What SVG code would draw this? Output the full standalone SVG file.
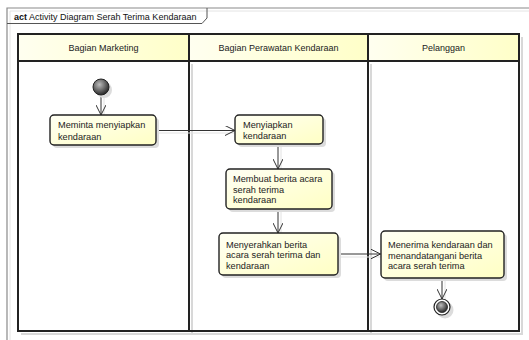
<svg xmlns="http://www.w3.org/2000/svg" width="529" height="340" viewBox="0 0 529 340">
  <style>
    .txt { font-family: "Liberation Sans", Arial, sans-serif; font-size: 9.2px; fill: #222; }
    .hdr { font-family: "Liberation Sans", Arial, sans-serif; font-size: 9px; fill: #222; text-anchor: middle; }
    .act { fill: url(#actFill); stroke: #222; stroke-width: 1.4; }
    .shadow { fill: #dcdcdc; stroke: none; }
    .lane { fill: none; stroke: #222; stroke-width: 2; }
    .laneShadow { fill: none; stroke: #d8d8d8; stroke-width: 2; }
    .flow { fill: none; stroke: #333; stroke-width: 1; }
    .flowShadow { fill: none; stroke: #e2e2e2; stroke-width: 1; }
  </style>
  <defs>
    <linearGradient id="actFill" x1="0" y1="0" x2="1" y2="1">
      <stop offset="0" stop-color="#fffff4"/>
      <stop offset="1" stop-color="#ffffc4"/>
    </linearGradient>
    <linearGradient id="hdrFill" x1="0" y1="0" x2="1" y2="0">
      <stop offset="0" stop-color="#fffff0"/>
      <stop offset="1" stop-color="#ffffc8"/>
    </linearGradient>
    <radialGradient id="dotFill" cx="0.4" cy="0.35" r="0.7">
      <stop offset="0" stop-color="#bdbdbd"/>
      <stop offset="1" stop-color="#1e1e1e"/>
    </radialGradient>
    <marker id="openArrow" viewBox="0 0 10 10" refX="10" refY="5" markerWidth="10" markerHeight="10" markerUnits="userSpaceOnUse" orient="auto">
      <path d="M0,0 L10,5 L0,10" fill="none" stroke="#333" stroke-width="1"/>
    </marker>
  </defs>

  <rect width="529" height="340" fill="#ffffff"/>

  <!-- diagram frame with name tab -->
  <g id="frame">
    <path d="M10,340 V11 H529" fill="none" stroke="#e4e4e4" stroke-width="1"/>
    <path d="M7,340 V8 H529" fill="none" stroke="#8a8a8a" stroke-width="1.2"/>
    <path d="M7,23.5 H202 L207,18 V8" fill="none" stroke="#555" stroke-width="1"/>
    <text x="14" y="19.5" font-family="'Liberation Sans', Arial, sans-serif" font-size="9px" fill="#111"><tspan font-weight="bold">act</tspan><tspan x="29">Activity Diagram Serah Terima Kendaraan</tspan></text>
  </g>

  <!-- swimlane partitions -->
  <g id="partitions">
    <path d="M192,64 V334 M371,64 V334 M21,334 H522 V37" class="laneShadow"/>
    <rect x="18" y="34" width="171" height="27" fill="url(#hdrFill)"/>
    <rect x="189" y="34" width="179" height="27" fill="url(#hdrFill)"/>
    <rect x="368" y="34" width="151" height="27" fill="url(#hdrFill)"/>
    <rect x="18" y="34" width="501" height="297" class="lane"/>
    <path d="M18,61 H519 M189,34 V331 M368,34 V331" class="lane"/>
    <text class="hdr" x="103.5" y="51">Bagian Marketing</text>
    <text class="hdr" x="278.5" y="51">Bagian Perawatan Kendaraan</text>
    <text class="hdr" x="443.5" y="51">Pelanggan</text>
  </g>

  <!-- control flows -->
  <g id="connectors">
    <path class="flowShadow" d="M104,98 V117 M158,133 H236 M281,147 V170 M281,212 V234 M341,257 H381 M445,281 V300"/>
    <path class="flow" d="M101,95 V115" marker-end="url(#openArrow)"/>
    <path class="flow" d="M156,130.5 H235" marker-end="url(#openArrow)"/>
    <path class="flow" d="M278,144 V169" marker-end="url(#openArrow)"/>
    <path class="flow" d="M278,209 V233" marker-end="url(#openArrow)"/>
    <path class="flow" d="M338,254 H380.5" marker-end="url(#openArrow)"/>
    <path class="flow" d="M442,278 V299" marker-end="url(#openArrow)"/>
  </g>

  <g id="initial">
    <circle cx="104" cy="90" r="8" class="shadow"/>
    <circle cx="101" cy="87" r="8" fill="url(#dotFill)" stroke="#222" stroke-width="1"/>
  </g>

  <g id="meminta">
    <rect x="53" y="118" width="106" height="30" rx="4" class="shadow"/>
    <rect x="50" y="115" width="106" height="30" rx="4" class="act"/>
    <text class="txt" x="58" y="128">Meminta menyiapkan</text>
    <text class="txt" x="58" y="139.5">kendaraan</text>
  </g>

  <g id="menyiapkan">
    <rect x="238" y="118" width="88" height="29" rx="4" class="shadow"/>
    <rect x="235" y="115" width="88" height="29" rx="4" class="act"/>
    <text class="txt" x="243" y="127.5">Menyiapkan</text>
    <text class="txt" x="243" y="138.5">kendaraan</text>
  </g>

  <g id="membuat">
    <rect x="229" y="172" width="106" height="40" rx="4" class="shadow"/>
    <rect x="226" y="169" width="106" height="40" rx="4" class="act"/>
    <text class="txt" x="233" y="181.5">Membuat berita acara</text>
    <text class="txt" x="233" y="192.5">serah terima</text>
    <text class="txt" x="233" y="203">kendaraan</text>
  </g>

  <g id="menyerahkan">
    <rect x="222" y="236" width="119" height="42" rx="4" class="shadow"/>
    <rect x="219" y="233" width="119" height="42" rx="4" class="act"/>
    <text class="txt" x="226" y="247.5">Menyerahkan berita</text>
    <text class="txt" x="226" y="258">acara serah terima dan</text>
    <text class="txt" x="226" y="268.5">kendaraan</text>
  </g>

  <g id="menerima">
    <rect x="384" y="234" width="123" height="47" rx="4" class="shadow"/>
    <rect x="381" y="231" width="123" height="47" rx="4" class="act"/>
    <text class="txt" x="388" y="247.5">Menerima kendaraan dan</text>
    <text class="txt" x="388" y="258.5">menandatangani berita</text>
    <text class="txt" x="388" y="269">acara serah terima</text>
  </g>

  <g id="final">
    <circle cx="445" cy="310" r="8.5" class="shadow"/>
    <circle cx="442" cy="307" r="8" fill="#ffffff" stroke="#222" stroke-width="1.2"/>
    <circle cx="442" cy="307" r="5.5" fill="url(#dotFill)" stroke="#222" stroke-width="0.8"/>
  </g>
</svg>
